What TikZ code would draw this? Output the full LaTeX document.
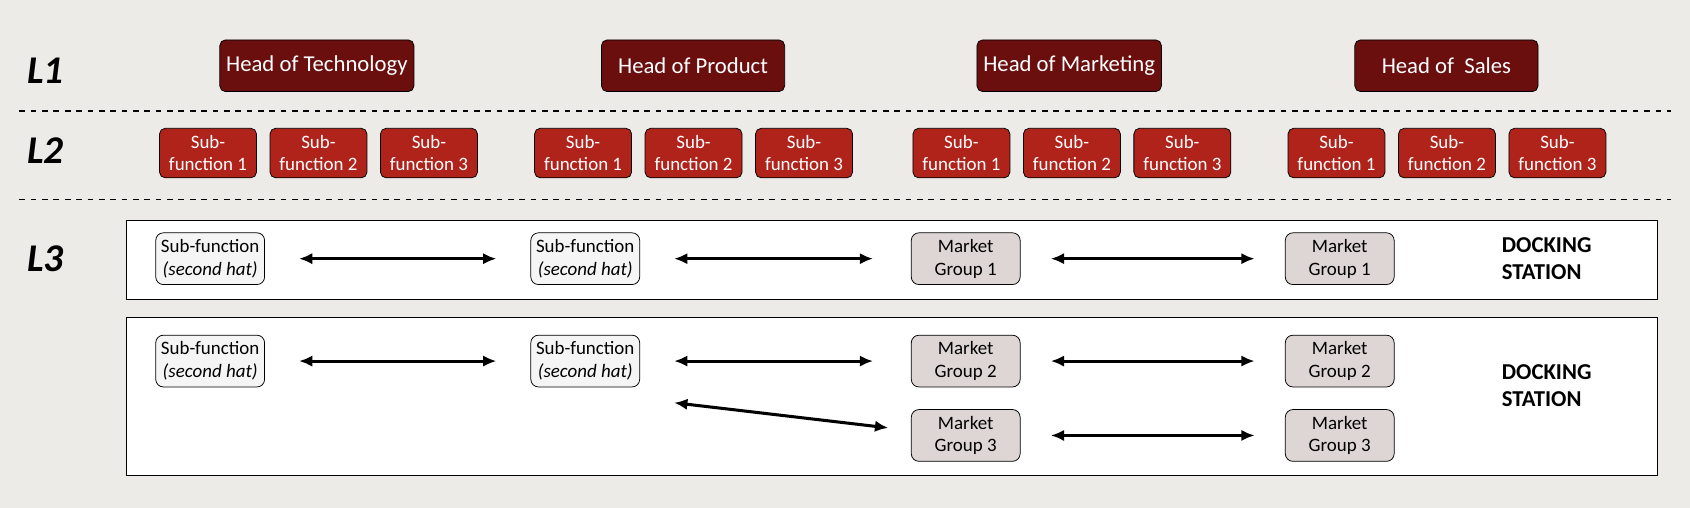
\documentclass[tikz,border=0pt]{standalone}
\usepackage{fontspec}
\setmainfont{Carlito}
\usepackage{tikz}
\usetikzlibrary{positioning, arrows.meta}
\definecolor{bgcol}{HTML}{ECEBE8}
\definecolor{headred}{HTML}{6A0E0E}
\definecolor{subred}{HTML}{B0231B}
\definecolor{mgcol}{HTML}{DDD6D4}
\tikzset{
  lvl/.style={font=\bfseries\itshape\huge},
  head/.style={draw=black, fill=headred, text=white, rounded corners=3pt, minimum width=3.4cm, minimum height=0.96cm, font=\large},
  sub/.style={draw=black, fill=subred, text=white, rounded corners=3pt, minimum width=1.8cm, minimum height=0.92cm, align=center, font=\normalsize, inner sep=1pt},
  hat/.style={draw=black, fill=gray!8, rounded corners=4pt, minimum width=2.02cm, minimum height=0.96cm, align=center, font=\normalsize, inner sep=1pt},
  mkt/.style={hat, fill=mgcol},
  dock/.style={font=\bfseries\large, align=left},
  link/.style={{Latex[length=7pt,width=6pt]}-{Latex[length=7pt,width=6pt]}, line width=1.6pt}
}
\begin{document}
\begin{tikzpicture}[x=0.02cm, y=-0.02cm]
  \fill[bgcol] (0,0) rectangle (1568,471);
  \useasboundingbox (0,0) rectangle (1568,471);

  \node[lvl] (l1) at (42,66) {L1};
  \node[lvl] (l2) at (42,140) {L2};
  \node[lvl] (l3) at (42,240) {L3};

  \draw[dashed, thick] (18,103) -- (1550,103);
  \draw[dashed, thick] (18,185) -- (1550,185);

  % heads
  \node[head] (tech) at (294,61) {Head of Technology};
  \node[head] (prod) at (643,61) {Head of Product};
  \node[head] (mark) at (992,61) {Head of Marketing};
  \node[head] (sale) at (1342,61) {Head of \ Sales};

  % sub-functions
  \foreach \g/\x in {tech/193, prod/541, mark/892, sale/1240}
    \foreach \i in {1,2,3}
      \node[sub] (\g-s\i) at ({\x+(\i-1)*102.5},142) {Sub-\\function \i};

  % docking rows
  \draw[fill=white] (117,204) rectangle (1538,278);
  \draw[fill=white] (117,294) rectangle (1538,441);

  \node[hat] (h1a) at (195,240) {Sub-function\\\textit{(second hat)}};
  \node[hat] (h1b) at (543,240) {Sub-function\\\textit{(second hat)}};
  \node[mkt] (m1a) at (896,240) {Market\\Group 1};
  \node[mkt] (m1b) at (1243,240) {Market\\Group 1};
  \node[dock] (d1) at (1435,240) {DOCKING\\STATION};

  \node[hat] (h2a) at (195,335) {Sub-function\\\textit{(second hat)}};
  \node[hat] (h2b) at (543,335) {Sub-function\\\textit{(second hat)}};
  \node[mkt] (m2a) at (896,335) {Market\\Group 2};
  \node[mkt] (m2b) at (1243,335) {Market\\Group 2};
  \node[mkt] (m3a) at (896,404) {Market\\Group 3};
  \node[mkt] (m3b) at (1243,404) {Market\\Group 3};
  \node[dock] (d2) at (1435,358) {DOCKING\\STATION};

  \draw[link] ([xshift=18]h1a.east) -- ([xshift=-18]h1b.west);
  \draw[link] ([xshift=18]h1b.east) -- ([xshift=-20]m1a.west);
  \draw[link] ([xshift=16]m1a.east) -- ([xshift=-16]m1b.west);

  \draw[link] ([xshift=18]h2a.east) -- ([xshift=-18]h2b.west);
  \draw[link] ([xshift=18]h2b.east) -- ([xshift=-20]m2a.west);
  \draw[link] ([xshift=16]m2a.east) -- ([xshift=-16]m2b.west);
  \draw[link] ([xshift=18,yshift=-22]h2b.east) -- ([xshift=-12,yshift=4]m3a.west);
  \draw[link] ([xshift=16]m3a.east) -- ([xshift=-16]m3b.west);
\end{tikzpicture}
\end{document}
